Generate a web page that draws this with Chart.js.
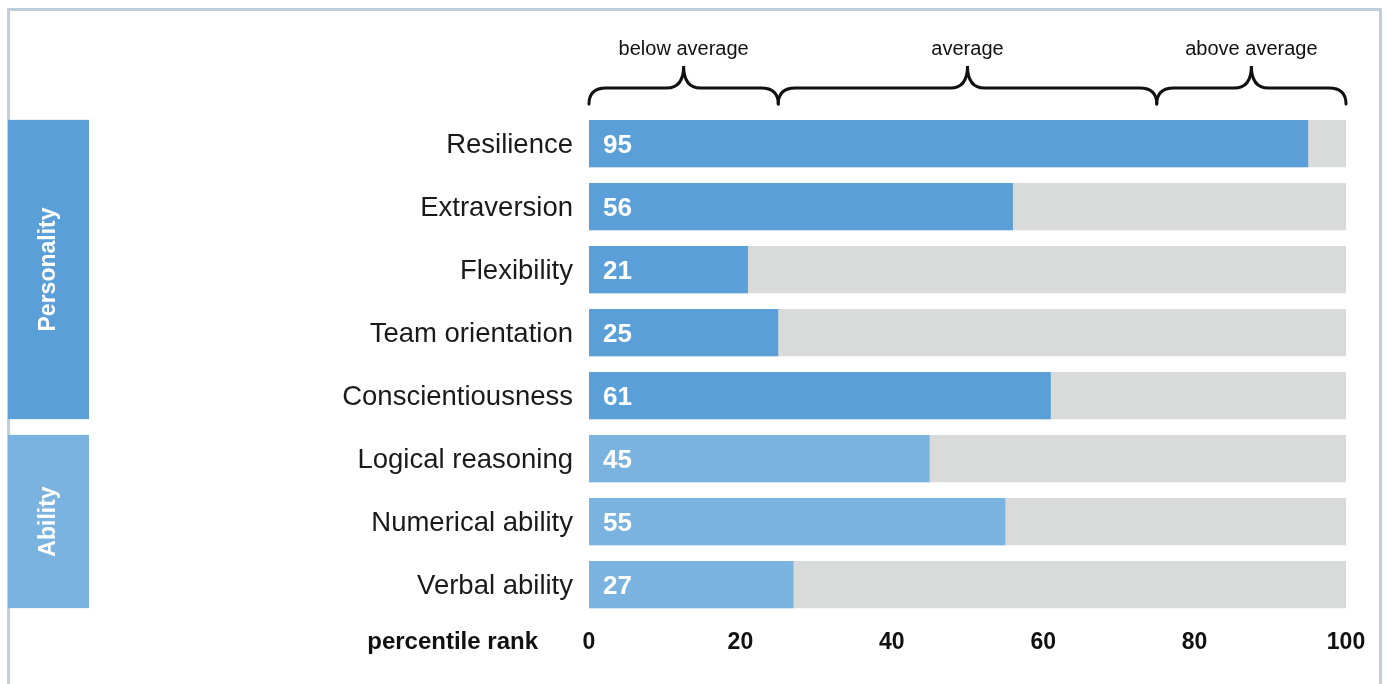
<!DOCTYPE html>
<html>
<head>
<meta charset="utf-8">
<script src="https://cdn.jsdelivr.net/npm/chart.js@4/dist/chart.umd.min.js"></script>
<style>
  body { margin: 0; background: #fff; }
  canvas { display: block; }
</style>
</head>
<body>
<canvas id="profileChart" width="1389" height="684"></canvas>
<script>
const traits = ['Resilience', 'Extraversion', 'Flexibility', 'Team orientation',
  'Conscientiousness', 'Logical reasoning', 'Numerical ability', 'Verbal ability'];
const scores = [95, 56, 21, 25, 61, 45, 55, 27];

const groupNames = ['Personality', 'Ability'];
const groupSizes = [5, 3];
const groupColors = ['#5a9fd8', '#7ab3e0'];

const bandLabels = ['below average', 'average', 'above average'];
const bandEdges = [0, 25, 75, 100];

const xTicks = [0, 20, 40, 60, 80, 100];
const scaleMax = 100;
const axisTitle = 'percentile rank';

const FONT = "'Liberation Sans', Arial, sans-serif";

// colour of each bar follows its group
const barColors = [];
groupSizes.forEach((n, g) => { for (let i = 0; i < n; i++) barColors.push(groupColors[g]); });

const framePlugin = {
  id: 'frame',
  beforeDraw(chart) {
    const ctx = chart.ctx;
    ctx.save();
    ctx.fillStyle = '#fff';
    ctx.fillRect(0, 0, chart.width, chart.height);
    ctx.strokeStyle = '#bccfda';
    ctx.lineWidth = 3;
    ctx.beginPath();
    ctx.moveTo(8.5, chart.height);
    ctx.lineTo(8.5, 9.5);
    ctx.lineTo(1380.5, 9.5);
    ctx.lineTo(1380.5, chart.height);
    ctx.stroke();
    ctx.restore();
  }
};

const extrasPlugin = {
  id: 'extras',
  afterDatasetsDraw(chart) {
    const ctx = chart.ctx;
    const x = chart.scales.x;
    const bars = chart.getDatasetMeta(0).data;
    ctx.save();

    // score numbers inside bars
    ctx.fillStyle = '#fff';
    ctx.font = 'bold 26px ' + FONT;
    ctx.textAlign = 'left';
    ctx.textBaseline = 'middle';
    bars.forEach((bar, i) => {
      ctx.fillText(scores[i], bar.base + 14, bar.y + 2);
    });

    // group boxes on the left
    let start = 0;
    groupSizes.forEach((n, g) => {
      const first = bars[start], last = bars[start + n - 1];
      const top = first.y - first.height / 2;
      const bottom = last.y + last.height / 2;
      ctx.fillStyle = groupColors[g];
      ctx.fillRect(8, top, 81, bottom - top);
      ctx.save();
      ctx.translate(49, (top + bottom) / 2);
      ctx.rotate(-Math.PI / 2);
      ctx.fillStyle = '#fff';
      ctx.font = 'bold 23px ' + FONT;
      ctx.textAlign = 'center';
      ctx.textBaseline = 'middle';
      ctx.fillText(groupNames[g], 0, 0);
      ctx.restore();
      start += n;
    });

    // curly braces for the bands
    const yTip = 66, yMid = 88, yEnd = 104, r = 17;
    ctx.strokeStyle = '#111';
    ctx.lineWidth = 3;
    ctx.lineCap = 'round';
    ctx.fillStyle = '#111';
    ctx.font = '20px ' + FONT;
    ctx.textAlign = 'center';
    ctx.textBaseline = 'middle';
    for (let b = 0; b < bandLabels.length; b++) {
      const x1 = x.getPixelForValue(bandEdges[b]);
      const x2 = x.getPixelForValue(bandEdges[b + 1]);
      const xm = (x1 + x2) / 2;
      ctx.beginPath();
      ctx.moveTo(x1, yEnd);
      ctx.quadraticCurveTo(x1, yMid, x1 + r, yMid);
      ctx.lineTo(xm - r, yMid);
      ctx.quadraticCurveTo(xm, yMid, xm, yTip);
      ctx.quadraticCurveTo(xm, yMid, xm + r, yMid);
      ctx.lineTo(x2 - r, yMid);
      ctx.quadraticCurveTo(x2, yMid, x2, yEnd);
      ctx.stroke();
      ctx.fillText(bandLabels[b], xm, 49);
    }

    // axis title left of the ticks
    ctx.font = 'bold 24px ' + FONT;
    ctx.textAlign = 'right';
    ctx.fillText(axisTitle, 538, 642);
    ctx.restore();
  }
};

new Chart(document.getElementById('profileChart'), {
  type: 'bar',
  data: {
    labels: traits,
    datasets: [
      {
        label: 'Score',
        data: scores,
        backgroundColor: barColors,
        grouped: false,
        order: 0,
        barPercentage: 0.75,
        categoryPercentage: 1
      },
      {
        label: 'Track',
        data: scores.map(() => scaleMax),
        backgroundColor: '#d9dada',
        grouped: false,
        order: 1,
        barPercentage: 0.75,
        categoryPercentage: 1
      }
    ]
  },
  options: {
    indexAxis: 'y',
    responsive: false,
    animation: false,
    devicePixelRatio: 1,
    layout: { padding: { left: 0, right: 43, top: 112, bottom: 18 } },
    plugins: {
      legend: { display: false },
      tooltip: { enabled: false }
    },
    scales: {
      y: {
        grid: { display: false, drawTicks: false },
        border: { display: false },
        ticks: { color: '#1a1a1a', padding: 16, labelOffset: 2, font: { family: FONT, size: 27.5 } },
        afterFit(axis) { axis.width = 589; }
      },
      x: {
        min: 0,
        max: scaleMax,
        grid: { display: false, drawTicks: false },
        border: { display: false },
        afterBuildTicks(axis) { axis.ticks = xTicks.map(v => ({ value: v })); },
        ticks: { color: '#111', padding: 13, font: { family: FONT, size: 23, weight: 'bold' } },
        afterFit(axis) { axis.height = 50; }
      }
    }
  },
  plugins: [framePlugin, extrasPlugin]
});
</script>
</body>
</html>
